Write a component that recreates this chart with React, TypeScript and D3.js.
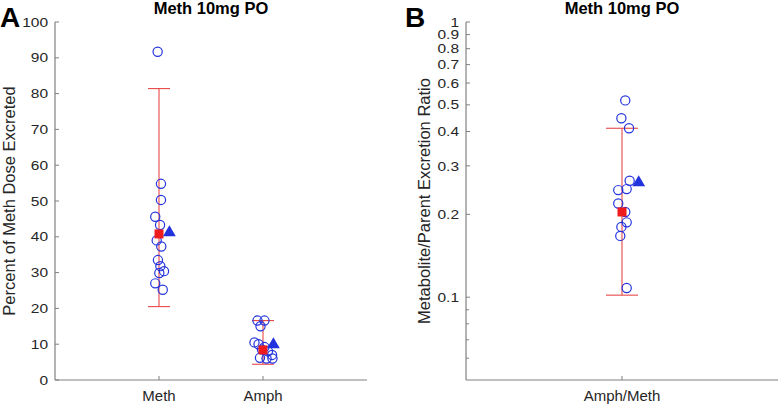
import React from "react";
import * as d3 from "d3";

// ---- Data ----
const categoriesA = ["Meth", "Amph"];
const methValues = [91.7, 54.8, 50.3, 45.6, 43.3, 39.0, 37.3, 33.5, 31.8, 30.4, 29.9, 27.0, 25.2];
const methJitter = [-0.013, 0.019, 0.019, -0.036, 0.01, -0.022, 0.022, -0.01, 0.013, 0.048, 0.003, -0.036, 0.036];
const amphValues = [16.6, 16.6, 15.0, 10.5, 10.0, 9.2, 8.5, 8.0, 7.0, 6.2, 6.0, 6.0];
const amphJitter = [-0.053, 0.014, -0.024, -0.082, -0.043, 0.014, -0.01, 0.048, 0.087, -0.029, 0.034, 0.091];
const meansA = [40.8, 8.4];
const lowA = [20.5, 4.4];
const highA = [81.4, 16.6];
const triA = [41.7, 10.4];

const categoriesB = ["Amph/Meth"];
const ratioValues = [0.519, 0.447, 0.411, 0.265, 0.245, 0.247, 0.219, 0.204, 0.187, 0.18, 0.167, 0.108];
const ratioJitter = [0.021, -0.004, 0.045, 0.049, -0.024, 0.03, -0.024, 0.021, 0.03, -0.004, -0.011, 0.03];
const meansB = [0.204];
const lowB = [0.1017];
const highB = [0.411];
const triB = [0.265];

const yTicksA = [0, 10, 20, 30, 40, 50, 60, 70, 80, 90, 100];
const yTicksB = [0.1, 0.2, 0.3, 0.4, 0.5, 0.6, 0.7, 0.8, 0.9, 1];
const yMinorB = [0.06, 0.07, 0.08, 0.09];

const title = "Meth 10mg PO";

// ---- Styles ----
const FONT = "'Liberation Sans', Arial, Helvetica, sans-serif";
const AXIS = "#808080";
const TXT = "#262626";
const BLUE = "#2233dd";
const RED = "#ee1c1c";
const RED_LINE = "#e84848";
const TICK_FS = 15.5;
const TICK_SY = 0.86;

const W = 780;
const H = 405;

const xA = d3.scaleLinear().domain([0, 3]).range([55, 367]);
const yA = d3.scaleLinear().domain([0, 100]).range([380, 22]);
const xB = d3.scaleLinear().domain([0, 2]).range([466, 778]);
const yB = d3.scaleLog().domain([0.05, 1]).range([380, 22]);

function tri(cx: number, cy: number) {
  const p = d3.path();
  p.moveTo(cx, cy - 5.5);
  p.lineTo(cx + 6.4, cy + 5.5);
  p.lineTo(cx - 6.4, cy + 5.5);
  p.closePath();
  return p.toString();
}

function ErrorBar({ x, lo, hi, cap }: { x: number; lo: number; hi: number; cap: number }) {
  return (
    <g stroke={RED_LINE} strokeWidth={1.1}>
      <line x1={x} x2={x} y1={lo} y2={hi} />
      <line x1={x - cap} x2={x + cap} y1={lo} y2={lo} />
      <line x1={x - cap} x2={x + cap} y1={hi} y2={hi} />
    </g>
  );
}

function Points({ vals, jit, cat, xs, ys }: any) {
  return (
    <g fill="none" stroke={BLUE} strokeWidth={1.2}>
      {vals.map((v: number, i: number) => (
        <circle key={i} cx={xs(cat + jit[i])} cy={ys(v)} r={4.6} />
      ))}
    </g>
  );
}

function YTickLabel({ x, y, label }: { x: number; y: number; label: string }) {
  return (
    <text
      transform={`translate(${x},${y + 5.4 * TICK_SY}) scale(1,${TICK_SY})`}
      fontSize={TICK_FS}
      textAnchor="end"
      fill={TXT}
    >
      {label}
    </text>
  );
}

export default function App() {
  const groupsA = [
    { vals: methValues, jit: methJitter },
    { vals: amphValues, jit: amphJitter },
  ];
  return (
    <svg
      width={W}
      height={H}
      style={{ position: "absolute", left: 0, top: 0, background: "#fff" }}
      fontFamily={FONT}
    >
      <rect x={0} y={0} width={W} height={H} fill="#fff" />

      {/* Panel A */}
      <text x={0} y={27} fontSize={28} fontWeight="bold" fill="#000">A</text>
      <text x={(xA.range()[0] + xA.range()[1]) / 2} y={14} fontSize={16.5} fontWeight="bold" textAnchor="middle" fill="#000">
        {title}
      </text>
      <g>
        <line x1={55} x2={55} y1={yA(100)} y2={yA(0)} stroke={AXIS} strokeWidth={1.2} />
        <line x1={xA(0)} x2={xA(3)} y1={yA(0)} y2={yA(0)} stroke={AXIS} strokeWidth={1.2} />
        {yTicksA.map((t) => (
          <g key={t}>
            <line x1={55} x2={59} y1={yA(t)} y2={yA(t)} stroke={AXIS} />
            <YTickLabel x={48} y={yA(t)} label={String(t)} />
          </g>
        ))}
        {categoriesA.map((c, i) => (
          <g key={c}>
            <line x1={xA(i + 1)} x2={xA(i + 1)} y1={yA(0)} y2={yA(0) - 4} stroke={AXIS} />
            <text x={xA(i + 1)} y={401} fontSize={15} textAnchor="middle" fill={TXT}>{c}</text>
          </g>
        ))}
        <text transform={`translate(15,${(yA(0) + yA(100)) / 2}) rotate(-90)`} fontSize={16.5} textAnchor="middle" fill={TXT}>
          Percent of Meth Dose Excreted
        </text>
      </g>
      {categoriesA.map((c, i) => (
        <ErrorBar key={"eb" + c} x={xA(i + 1)} lo={yA(lowA[i])} hi={yA(highA[i])} cap={11} />
      ))}
      {groupsA.map((g, i) => (
        <Points key={"p" + i} vals={g.vals} jit={g.jit} cat={i + 1} xs={xA} ys={yA} />
      ))}
      {categoriesA.map((c, i) => (
        <g key={"m" + c}>
          <rect x={xA(i + 1) - 4.5} y={yA(meansA[i]) - 4.5} width={9} height={9} fill={RED} />
          <path d={tri(xA(i + 1.1), yA(triA[i]))} fill={BLUE} />
        </g>
      ))}

      {/* Panel B */}
      <text x={405} y={27} fontSize={28} fontWeight="bold" fill="#000">B</text>
      <text x={(xB.range()[0] + xB.range()[1]) / 2} y={14} fontSize={16.5} fontWeight="bold" textAnchor="middle" fill="#000">
        {title}
      </text>
      <g>
        <line x1={466} x2={466} y1={yB(1)} y2={yB(0.05)} stroke={AXIS} strokeWidth={1.2} />
        <line x1={xB(0)} x2={xB(2)} y1={yB(0.05)} y2={yB(0.05)} stroke={AXIS} strokeWidth={1.2} />
        {yTicksB.map((t) => (
          <g key={t}>
            <line x1={466} x2={470} y1={yB(t)} y2={yB(t)} stroke={AXIS} />
            <YTickLabel x={459} y={yB(t)} label={String(t)} />
          </g>
        ))}
        {yMinorB.map((t) => (
          <line key={t} x1={466} x2={469} y1={yB(t)} y2={yB(t)} stroke={AXIS} />
        ))}
        {categoriesB.map((c, i) => (
          <g key={c}>
            <line x1={xB(i + 1)} x2={xB(i + 1)} y1={yB(0.05)} y2={yB(0.05) - 4} stroke={AXIS} />
            <text x={xB(i + 1)} y={401} fontSize={15} textAnchor="middle" fill={TXT}>{c}</text>
          </g>
        ))}
        <text transform={`translate(430,${(yB(0.05) + yB(1)) / 2}) rotate(-90)`} fontSize={16.5} textAnchor="middle" fill={TXT}>
          Metabolite/Parent Excretion Ratio
        </text>
      </g>
      {categoriesB.map((c, i) => (
        <ErrorBar key={"ebB" + c} x={xB(i + 1)} lo={yB(lowB[i])} hi={yB(highB[i])} cap={16} />
      ))}
      <Points vals={ratioValues} jit={ratioJitter} cat={1} xs={xB} ys={yB} />
      {categoriesB.map((c, i) => (
        <g key={"mB" + c}>
          <rect x={xB(i + 1) - 4.5} y={yB(meansB[i]) - 4.5} width={9} height={9} fill={RED} />
          <path d={tri(xB(i + 1.107), yB(triB[i]))} fill={BLUE} />
        </g>
      ))}
    </svg>
  );
}
